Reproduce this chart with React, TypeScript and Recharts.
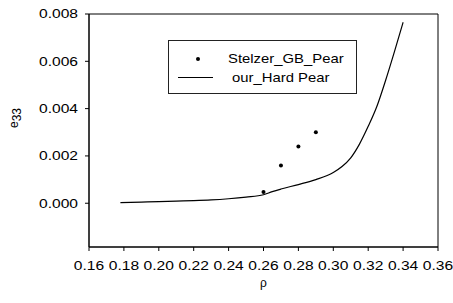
import React from "react";
import {
  ComposedChart, Line, Scatter, XAxis, YAxis, ReferenceArea, Label,
} from "recharts";

// model curve (our_Hard Pear)
const rhoModel = [0.178, 0.19, 0.2, 0.21, 0.22, 0.23, 0.24, 0.25, 0.26, 0.265, 0.27, 0.28, 0.29, 0.3, 0.305, 0.31, 0.315, 0.32, 0.325, 0.33, 0.335, 0.34];
const e33Model = [0.00003, 0.00005, 0.00007, 0.00009, 0.00011, 0.00014, 0.00019, 0.00026, 0.00036, 0.00049, 0.0006, 0.00079, 0.001, 0.0013, 0.00155, 0.00192, 0.0025, 0.00325, 0.0041, 0.0052, 0.0064, 0.00765];

// measured points (Stelzer_GB_Pear)
const rhoStelzer = [0.26, 0.27, 0.28, 0.29];
const e33Stelzer = [0.00048, 0.0016, 0.0024, 0.003];

const xTicks = [0.16, 0.18, 0.2, 0.22, 0.24, 0.26, 0.28, 0.3, 0.32, 0.34, 0.36];
const yTicks = [0, 0.002, 0.004, 0.006, 0.008];
const Y_MIN = -0.00185;
const Y_MAX = 0.008;

const modelData = rhoModel.map((rho, i) => ({ rho, e33: e33Model[i] }));
const stelzerData = rhoStelzer.map((rho, i) => ({ rho, e33: e33Stelzer[i] }));

const FONT = "'Liberation Sans', Arial, sans-serif";
const SX = 1.3;

const stretch = (x: number, y: number, s = SX) =>
  `translate(${x} ${y}) scale(${s} 1) translate(${-x} ${-y})`;

const XTick = ({ x, y, payload }: any) => (
  <text x={x} y={y} dy="0.71em" textAnchor="middle" fontSize={12} fontFamily={FONT} fill="#000" transform={stretch(x, y)}>
    {Number(payload.value).toFixed(2)}
  </text>
);

const YTick = ({ x, y, payload }: any) => (
  <text x={x} y={y} dy="0.36em" textAnchor="end" fontSize={12} fontFamily={FONT} fill="#000" transform={stretch(x, y)}>
    {Number(payload.value).toFixed(3)}
  </text>
);

const Dot = ({ cx, cy }: any) => <circle cx={cx} cy={cy} r={2} fill="#000" />;

const YTitle = () => (
  <text x={18} y={118} textAnchor="middle" fontSize={12} fontFamily={FONT} fill="#000" transform="rotate(-90 18 118)">
    e<tspan dy={3} fontSize={12}>33</tspan>
  </text>
);

function LegendBox() {
  return (
    <svg width={192} height={56} style={{ position: "absolute", left: 167, top: 39 }}>
      <rect x={1.5} y={1.5} width={188} height={53} fill="none" stroke="#222" strokeWidth={1} />
      <circle cx={31} cy={20} r={2} fill="#000" />
      <text x={61} y={24.5} fontSize={12} fontFamily={FONT} fill="#000" transform={stretch(61, 24.5, 1.24)}>
        Stelzer_GB_Pear
      </text>
      <line x1={11} y1={38.5} x2={46} y2={38.5} stroke="#000" strokeWidth={1} />
      <text x={65} y={43} fontSize={12} fontFamily={FONT} fill="#000" transform={stretch(65, 43, 1.24)}>
        our_Hard Pear
      </text>
    </svg>
  );
}

export default function App() {
  return (
    <div style={{ position: "absolute", left: 0, top: 0, width: 453, height: 303, background: "#fff" }}>
      <ComposedChart width={453} height={303} margin={{ top: 14, right: 15, left: 0, bottom: 0 }}>
        <XAxis
          type="number"
          dataKey="rho"
          domain={[0.16, 0.36]}
          ticks={xTicks}
          interval={0}
          height={56}
          tick={<XTick />}
          tickSize={4}
          tickMargin={10}
          axisLine={{ stroke: "#000" }}
          tickLine={{ stroke: "#000" }}
          allowDataOverflow
        >
          <Label value="ρ" position="insideBottom" offset={16} fontSize={12} fontFamily={FONT} fill="#000" />
        </XAxis>
        <YAxis
          type="number"
          dataKey="e33"
          domain={[Y_MIN, Y_MAX]}
          ticks={yTicks}
          interval={0}
          width={89}
          tick={<YTick />}
          tickSize={4}
          tickMargin={7}
          axisLine={{ stroke: "#000" }}
          tickLine={{ stroke: "#000" }}
          allowDataOverflow
        >
          <Label content={<YTitle />} />
        </YAxis>
        <ReferenceArea x1={0.16} x2={0.36} y1={Y_MIN} y2={Y_MAX} fill="none" stroke="#000" strokeWidth={1} fillOpacity={0} />
        <Line
          data={modelData}
          dataKey="e33"
          type="monotone"
          stroke="#000"
          strokeWidth={1.2}
          dot={false}
          activeDot={false}
          isAnimationActive={false}
        />
        <Scatter data={stelzerData} dataKey="e33" shape={<Dot />} isAnimationActive={false} />
      </ComposedChart>
      <LegendBox />
    </div>
  );
}
